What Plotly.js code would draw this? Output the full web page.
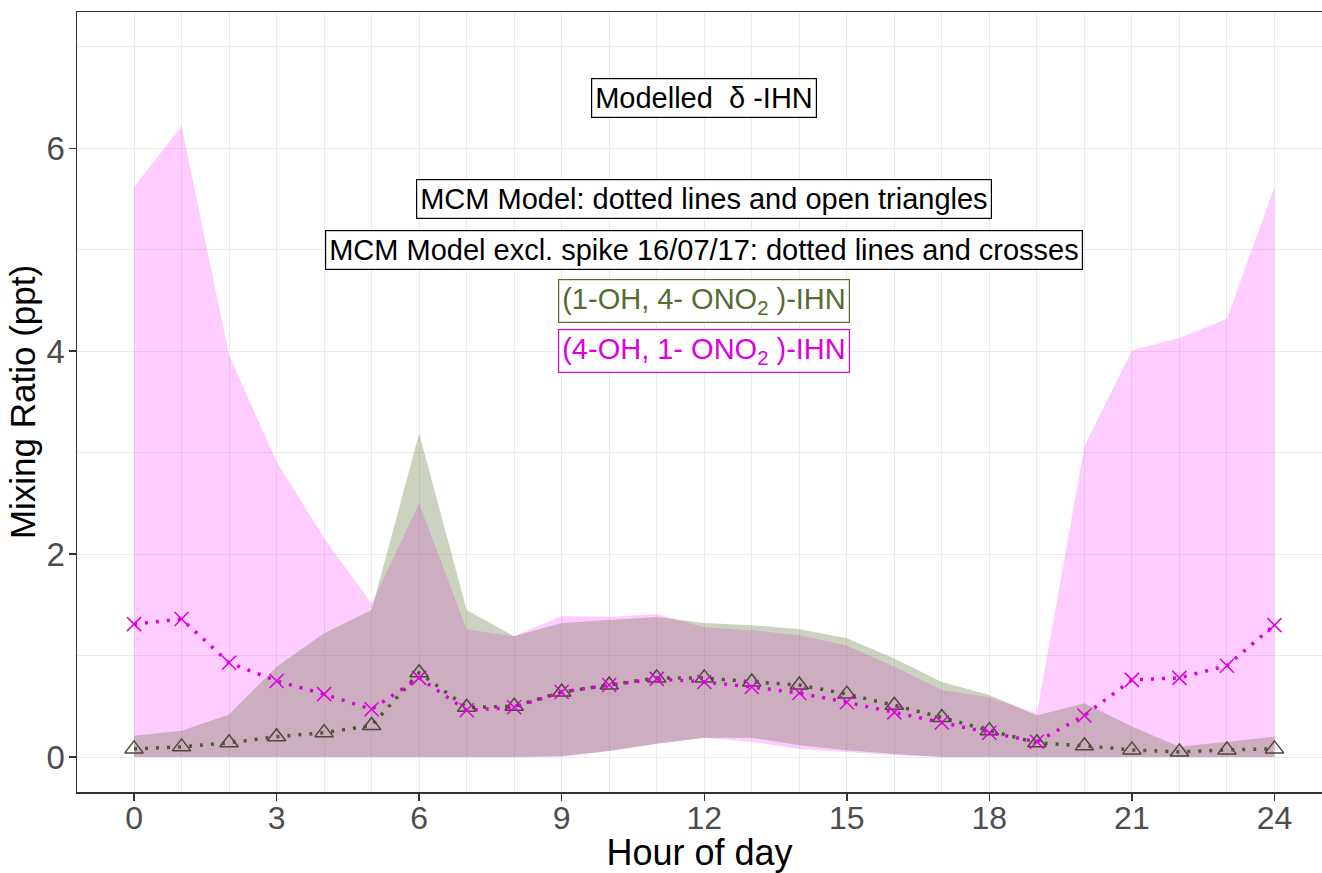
<!DOCTYPE html>
<html>
<head>
<meta charset="utf-8">
<script src="https://cdn.plot.ly/plotly-3.0.1.min.js"></script>
<style>html,body{margin:0;padding:0;background:#fff;}#chart{width:1322px;height:873px;}</style>
</head>
<body>
<div id="chart"></div>
<script>
// Hour of day
const hours = [0,1,2,3,4,5,6,7,8,9,10,11,12,13,14,15,16,17,18,19,20,21,22,23,24];

// (1-OH, 4-ONO2)-IHN band (olive)
const oliveUpper = [0.21,0.26,0.42,0.89,1.22,1.45,3.19,1.45,1.19,1.32,1.35,1.38,1.32,1.30,1.26,1.17,0.97,0.74,0.61,0.41,0.53,0.30,0.10,0.15,0.20];
const oliveLower = [0,0,0,0,0,0,0,0,0,0.01,0.06,0.13,0.19,0.19,0.115,0.066,0.03,0,0,0,0,0,0,0,0];

// (4-OH, 1-ONO2)-IHN band (magenta)
const pinkUpper = [5.62,6.22,3.96,2.91,2.16,1.51,2.50,1.26,1.19,1.39,1.38,1.41,1.28,1.25,1.20,1.10,0.89,0.66,0.59,0.43,3.06,4.01,4.13,4.32,5.62];
const pinkLower = [0,0,0,0,0,0,0,0,0,0,0.06,0.13,0.19,0.15,0.08,0.05,0.02,0,0,0,0,0,0,0,0];

// MCM model (open triangles)
const mcmTri = [0.08,0.10,0.14,0.20,0.24,0.31,0.83,0.49,0.50,0.64,0.71,0.78,0.78,0.74,0.71,0.62,0.51,0.39,0.26,0.14,0.11,0.07,0.05,0.07,0.08];
// MCM model excl. spike 16/07/17 (crosses)
const mcmCross = [1.31,1.36,0.93,0.75,0.62,0.47,0.78,0.46,0.49,0.64,0.71,0.77,0.74,0.69,0.63,0.54,0.44,0.34,0.24,0.15,0.41,0.76,0.78,0.90,1.30];

const xTicks = [0,3,6,9,12,15,18,21,24];
const yTicks = [0,2,4,6];

const OLIVE = '#556B2F';
const MAG = '#DD00DD';
const FONT = 'Liberation Sans, Arial, sans-serif';

function band(up, low, fill) {
  return {
    x: hours.concat(hours.slice().reverse()),
    y: up.concat(low.slice().reverse()),
    type: 'scatter', mode: 'lines', fill: 'toself',
    fillcolor: fill, line: {width: 0}, hoverinfo: 'skip', showlegend: false
  };
}

const traces = [
  band(pinkUpper, pinkLower, 'rgba(255,0,255,0.2)'),
  band(oliveUpper, oliveLower, 'rgba(85,107,47,0.3)'),
  {
    x: hours, y: mcmTri, type: 'scatter', mode: 'lines+markers', showlegend: false,
    line: {color: '#4E5A32', width: 3.5, dash: '3px,8px'},
    marker: {symbol: 'triangle-up-open', size: 16, color: '#4A4A38', line: {width: 1.5}}
  },
  {
    x: hours, y: mcmCross, type: 'scatter', mode: 'lines+markers', showlegend: false,
    line: {color: MAG, width: 3.5, dash: '3px,8px'},
    marker: {symbol: 'x-thin-open', size: 14, color: MAG, line: {width: 1.5, color: MAG}}
  }
];

function label(text, y, color) {
  return {
    x: 12, y: y, xref: 'x', yref: 'y', text: text, showarrow: false,
    font: {family: FONT, size: 29, color: color},
    bgcolor: '#ffffff', bordercolor: color, borderwidth: 1.2, borderpad: 3
  };
}

const layout = {
  width: 1322, height: 873,
  margin: {l: 77, r: 0, t: 12, b: 81},
  paper_bgcolor: '#ffffff', plot_bgcolor: '#ffffff',
  font: {family: FONT},
  showlegend: false,
  xaxis: {
    range: [-1.2, 25.0], tickvals: xTicks, ticktext: xTicks.map(String),
    ticks: 'outside', ticklen: 7, tickwidth: 1.5, tickcolor: '#333333',
    ticklabelstandoff: -10,
    showline: true, linecolor: '#333333', linewidth: 1.5, mirror: true,
    showgrid: true, gridcolor: '#EBEBEB', gridwidth: 1, zeroline: false,
    minor: {tickvals: hours, showgrid: true, gridcolor: '#EBEBEB', gridwidth: 1, ticks: ''},
    tickfont: {family: FONT, size: 32, color: '#4D4D4D'},
    title: {text: 'Hour of day', font: {family: FONT, size: 36, color: '#000000'}, standoff: 7},
    automargin: false
  },
  yaxis: {
    range: [-0.345, 7.344], tickvals: yTicks, ticktext: yTicks.map(String),
    ticks: 'outside', ticklen: 7, tickwidth: 1.5, tickcolor: '#333333',
    ticklabelstandoff: -3,
    showline: true, linecolor: '#333333', linewidth: 1.5,
    showgrid: true, gridcolor: '#EBEBEB', gridwidth: 1, zeroline: false,
    minor: {tickvals: [1,3,5,7], showgrid: true, gridcolor: '#EBEBEB', gridwidth: 1, ticks: ''},
    tickfont: {family: FONT, size: 33, color: '#4D4D4D'},
    title: {text: 'Mixing Ratio (ppt)', font: {family: FONT, size: 35, color: '#000000'}, standoff: 0},
    automargin: false
  },
  annotations: [
    label('Modelled  δ -IHN', 6.5, '#000000'),
    label('MCM Model: dotted lines and open triangles', 5.5, '#000000'),
    label('MCM Model excl. spike 16/07/17: dotted lines and crosses', 5.0, '#000000'),
    label('(1-OH, 4- ONO<sub>2</sub> )-IHN', 4.5, OLIVE),
    label('(4-OH, 1- ONO<sub>2</sub> )-IHN', 4.0, MAG)
  ]
};

Plotly.newPlot('chart', traces, layout, {displayModeBar: false, staticPlot: true});
</script>
</body>
</html>
